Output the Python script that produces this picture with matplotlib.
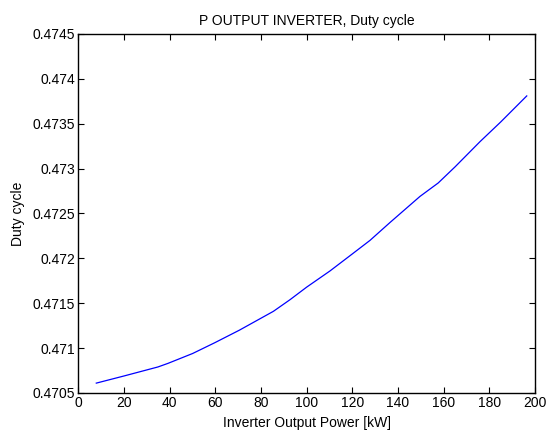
import matplotlib
matplotlib.use("Agg")
import matplotlib.pyplot as plt

# Inverter output power [kW] and the resulting duty cycle
power_kw = [7.8, 20, 34.8, 39.2, 50, 59.7, 70.5, 85.4, 92.7, 100, 110.2, 120,
            127.7, 136.5, 149.6, 157.6, 165, 175.9, 185, 196.4]
duty_cycle = [0.47061, 0.47069, 0.47079, 0.47083, 0.47094, 0.47106, 0.47120,
              0.47141, 0.47154, 0.47168, 0.47186, 0.47205, 0.47220, 0.47240,
              0.47269, 0.47284, 0.47302, 0.47330, 0.47352, 0.47381]

x_ticks = [0, 20, 40, 60, 80, 100, 120, 140, 160, 180, 200]
y_ticks = [0.4705, 0.471, 0.4715, 0.472, 0.4725, 0.473, 0.4735, 0.474, 0.4745]
y_tick_labels = ["0.4705", "0.471", "0.4715", "0.472", "0.4725", "0.473",
                 "0.4735", "0.474", "0.4745"]

plt.rcParams["font.family"] = ["Liberation Sans", "DejaVu Sans"]
FONT_SIZE = 10

fig = plt.figure(figsize=(5.47, 4.32), dpi=100)
fig.set_facecolor("white")
ax = fig.add_axes([0.1435, 0.0903, 0.8345, 0.8310])

ax.plot(power_kw, duty_cycle, color="#0000ff", linewidth=0.9)

ax.set_xlim(0, 200)
ax.set_ylim(0.4705, 0.4745)
ax.set_xticks(x_ticks)
ax.set_yticks(y_ticks)
ax.set_yticklabels(y_tick_labels)

ax.tick_params(direction="in", length=4, width=0.8, top=True, right=True,
               labelsize=FONT_SIZE, colors="black", pad=2.5)
for side in ax.spines.values():
    side.set_linewidth(1.0)

ax.set_title("P OUTPUT INVERTER, Duty cycle", fontsize=FONT_SIZE, pad=6.5)
ax.set_xlabel("Inverter Output Power [kW]", fontsize=FONT_SIZE, labelpad=4)
ax.set_ylabel("Duty cycle", fontsize=FONT_SIZE, labelpad=5)

fig.savefig("out.png", dpi=100, facecolor=fig.get_facecolor())
